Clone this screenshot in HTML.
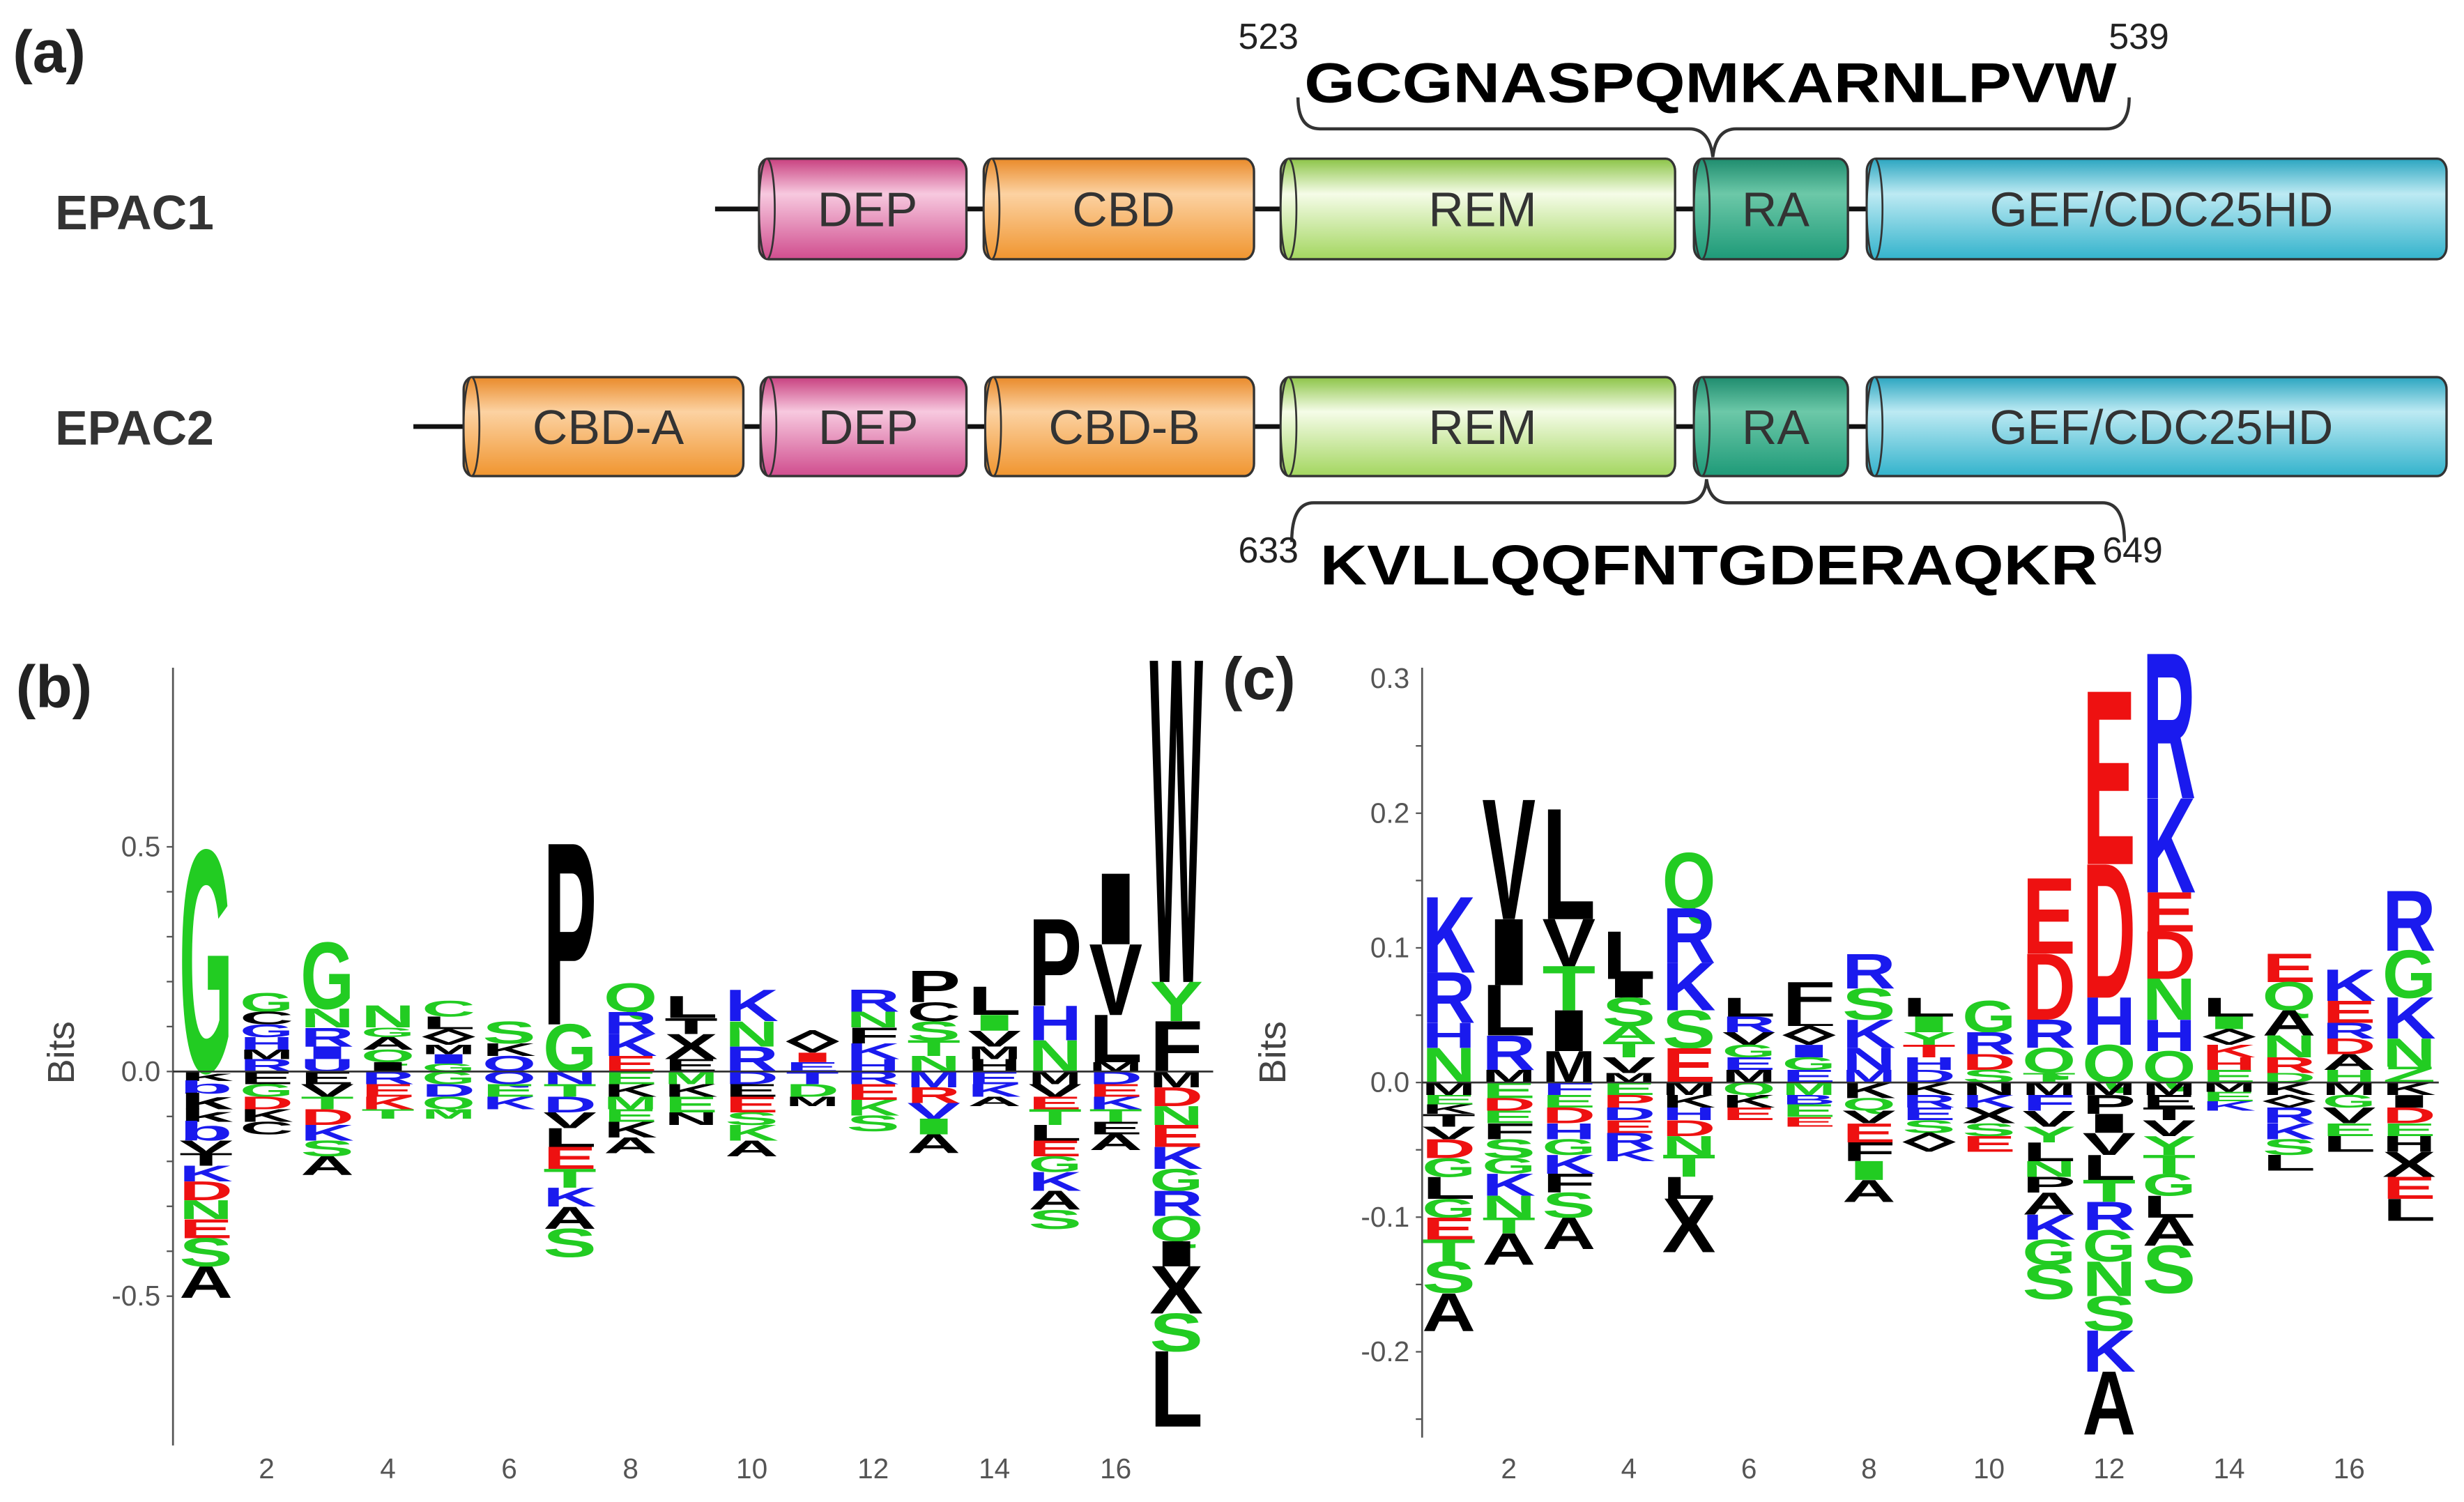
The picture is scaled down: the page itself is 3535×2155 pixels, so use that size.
<!DOCTYPE html>
<html><head><meta charset="utf-8"><style>
html,body{margin:0;padding:0;background:#fff;}
svg{display:block;}
text{font-family:"Liberation Sans",sans-serif;}
</style></head><body>
<svg id="s" xmlns="http://www.w3.org/2000/svg" width="3535" height="2155" viewBox="0 0 1568 956">
<defs>
<linearGradient id="gDEP" x1="0" y1="0" x2="0" y2="1"><stop offset="0" stop-color="#c8407f"/><stop offset="0.35" stop-color="#f7c9df"/><stop offset="1" stop-color="#d04d8e"/></linearGradient>
<linearGradient id="gCBD" x1="0" y1="0" x2="0" y2="1"><stop offset="0" stop-color="#e98a2a"/><stop offset="0.35" stop-color="#fcd2a2"/><stop offset="1" stop-color="#f0952f"/></linearGradient>
<linearGradient id="gREM" x1="0" y1="0" x2="0" y2="1"><stop offset="0" stop-color="#8cc447"/><stop offset="0.35" stop-color="#f5fce8"/><stop offset="1" stop-color="#a3d65f"/></linearGradient>
<linearGradient id="gRA" x1="0" y1="0" x2="0" y2="1"><stop offset="0" stop-color="#1e8c6e"/><stop offset="0.35" stop-color="#6cc8a8"/><stop offset="1" stop-color="#1e9a78"/></linearGradient>
<linearGradient id="gGEF" x1="0" y1="0" x2="0" y2="1"><stop offset="0" stop-color="#2aa5c0"/><stop offset="0.35" stop-color="#bdeaf3"/><stop offset="1" stop-color="#33b3cc"/></linearGradient>
</defs>
<g id="a"></g>
<g id="logos"></g>
</svg>
<script>
var NS="http://www.w3.org/2000/svg";
function el(p,tag,attrs,txt){var e=document.createElementNS(NS,tag);for(var k in attrs)e.setAttribute(k,attrs[k]);if(txt!==undefined)e.textContent=txt;p.appendChild(e);return e;}
var A=document.getElementById('a');
el(A,'text',{x:8,y:46,'font-size':38,'font-weight':'bold',fill:'#222'},'(a)');
el(A,'text',{x:35,y:146,'font-size':31,'font-weight':'bold',fill:'#333'},'EPAC1');
el(A,'text',{x:35,y:283,'font-size':31,'font-weight':'bold',fill:'#333'},'EPAC2');
function row(y0,y1,x0,boxes){
  var cy=(y0+y1)/2;
  el(A,'line',{x1:x0,y1:cy,x2:1557,y2:cy,stroke:'#111','stroke-width':3});
  boxes.forEach(function(b){
    el(A,'rect',{x:b[0],y:y0,width:b[1]-b[0],height:y1-y0,rx:6,ry:(y1-y0)/2*0.25,fill:'url(#g'+b[2]+')',stroke:'#333','stroke-width':1.5});
    el(A,'ellipse',{cx:b[0]+5,cy:cy,rx:5,ry:(y1-y0)/2,fill:'url(#g'+b[2]+')',stroke:'#333','stroke-width':1.2});
    el(A,'text',{x:(b[0]+b[1])/2+3,y:cy+11,'font-size':31,fill:'#333','text-anchor':'middle'},b[3]);
  });
}
row(101,165,455,[[483,615,'DEP','DEP'],[626,798,'CBD','CBD'],[815,1066,'REM','REM'],[1078,1176,'RA','RA'],[1188,1557,'GEF','GEF/CDC25HD']]);
row(240,303,263,[[295,473,'CBD','CBD-A'],[484,615,'DEP','DEP'],[627,798,'CBD','CBD-B'],[815,1066,'REM','REM'],[1078,1176,'RA','RA'],[1188,1557,'GEF','GEF/CDC25HD']]);
el(A,'text',{x:830,y:65,'font-size':36,'font-weight':'bold',fill:'#000',textLength:517,lengthAdjust:'spacingAndGlyphs'},'GCGNASPQMKARNLPVW');
el(A,'text',{x:788,y:31,'font-size':23,fill:'#222'},'523');
el(A,'text',{x:1342,y:31,'font-size':23,fill:'#222'},'539');
el(A,'path',{d:'M826,62 Q826,82 840,82 L1075,82 Q1088,82 1090,100 Q1092,82 1105,82 L1340,82 Q1355,82 1355,62',fill:'none',stroke:'#333','stroke-width':2});
el(A,'path',{d:'M822,345 Q822,320 836,320 L1072,320 Q1085,320 1086,305 Q1088,320 1100,320 L1338,320 Q1352,320 1352,345',fill:'none',stroke:'#333','stroke-width':2});
el(A,'text',{x:840,y:372,'font-size':36,'font-weight':'bold',fill:'#000',textLength:495,lengthAdjust:'spacingAndGlyphs'},'KVLLQQFNTGDERAQKR');
el(A,'text',{x:788,y:358,'font-size':23,fill:'#222'},'633');
el(A,'text',{x:1338,y:358,'font-size':23,fill:'#222'},'649');

var L=document.getElementById('logos');
var COL={g:'#22cc22',b:'#1a1aee',r:'#ee1111',k:'#000'};
function letter(ch,c,x,w,yTop,h){
  if(h<=0.5)return;
  el(L,'text',{x:0,y:0,'font-size':100,'font-weight':'bold',fill:COL[c],textLength:w,lengthAdjust:'spacingAndGlyphs',transform:'translate('+x+','+(yTop+h)+') scale(1,'+(h/69)+')'},ch);
}
function stack(x,w,base,pos,neg){
  var toks=pos.split(' ').filter(Boolean);var tot=0;toks.forEach(function(t){tot+=parseFloat(t.slice(2));});
  var y=base-tot;toks.forEach(function(t){var h=parseFloat(t.slice(2));letter(t[0],t[1],x,w,y,h);y+=h;});
  y=base;neg.split(' ').filter(Boolean).forEach(function(t){var h=parseFloat(t.slice(2));letter(t[0],t[1],x,w,y,h);y+=h;});
}
function axis(x,top,bot,zero,unit,step,labels,xlab0,xsp,bitsX,lab,labX,labY,xend){
  el(L,'line',{x1:x,y1:top,x2:x,y2:bot,stroke:'#555','stroke-width':1.2});
  for(var v=-5;v<=5;v++){var y=zero-v*step*unit;if(y<top-1||y>bot+1)continue;el(L,'line',{x1:x-4,y1:y,x2:x,y2:y,stroke:'#555','stroke-width':1});}
  labels.forEach(function(l){el(L,'text',{x:x-8,y:zero-l[0]*unit+6,'font-size':18,fill:'#555','text-anchor':'end'},l[1]);});
  el(L,'line',{x1:x,y1:zero,x2:xend,y2:zero,stroke:'#333','stroke-width':1.2});
  for(var i=2;i<=16;i+=2)el(L,'text',{x:xlab0+(i-1)*xsp,y:941,'font-size':18,fill:'#555','text-anchor':'middle'},''+i);
  el(L,'text',{x:0,y:0,'font-size':24,fill:'#444','text-anchor':'middle',transform:'translate('+bitsX+',670) rotate(-90)'},'Bits');
  el(L,'text',{x:labX,y:labY,'font-size':38,'font-weight':'bold',fill:'#222'},lab);
}
axis(110,425,920,682,286,0.1,[[0.5,'0.5'],[0,'0.0'],[-0.5,'-0.5']],131,38.6,47,'(b)',10,450,772);
var B=[
["Gg140","kk6 bb8 kk10 kk8 bb12 Vk8 Tk8 Kb10 Dr12 Ng12 Er12 Sg18 Ak20"],
["Gg12 Ck8 Gb8 Hb8 Mk6 Rb8","Ek8 Gg8 Dr8 Kk8 Ck8"],
["Gg42 Ng12 Rb12 Ib8 Ub8","Ek8 Vk8 Tg8 Dr10 Kb10 Sg10 Ak12"],
["Ng14 Gg6 Ak8 Qg8 Ik6","Rb8 Er8 Kr8 Tg6"],
["Cg10 Lk8 ◊k10 Mk6 Ib6 Gg5","Gg8 Db8 Qg8 Mg6"],
["Sg14 Kk8 Ob10","Qb8 Eg8 Kb8"],
["Pk115 Gg30","Nb8 Tg8 Db10 Vk10 Lk12 Er14 Tg12 Kb12 Ak14 Sg18"],
["Qg18 Rb14 Kb14 Er10","Eg8 Kk8 Mg8 Eg8 Kk10 Ak10"],
["Lk14 Tk10 Xk16 Ek8","Mg8 Kk8 Eg10 Nk8"],
["Kb20 Ng16 Rb16","Db8 Ek8 Er10 Sg8 Kg10 Ak10"],
["◊k14 Ir6 Eb6","Tb8 Dg8 Mk6"],
["Rb14 Ng10 Fk10 Kb10 Hb8","Rb8 Er10 Kg10 Sg10"],
["Pk20 Ck12 Sg12 Tg10 Ng10","Mb10 Rr10 Vb10 Ig10 Ak12"],
["Lk18 Ig10 Vk10 Mk8 Hk8","Eb8 Kb8 Ak6"],
["Pk55 Hb22 Ng20","Mk8 Vk8 Er8 Tg10 Lk10 Er10 Gg10 Kb12 Ak12 Sg12"],
["Ik45 Vk45 Lk30 Mk6","Db8 Er8 Kb8 Tg8 Ek8 Ak10"],
["Wk205 Yg25 Fk32","Mk10 Dr12 Ng12 Er14 Kb14 Gg14 Rb16 Qg16 Ik16 Xk30 Sg24 Lk48"]
];
B.forEach(function(s,i){stack(131+i*38.6-17,34,682,s[0],s[1]);});
axis(905,425,915,689,857,0.05,[[0.3,'0.3'],[0.2,'0.2'],[0.1,'0.1'],[0,'0.0'],[-0.1,'-0.1'],[-0.2,'-0.2']],922,38.2,818,'(c)',778,445,1552);
var C=[
["Kb48 Rb32 Hb16 Ng22","Mk8 Eg6 Kk6 Tk8 Vk8 Dr12 Gg12 Lk14 Gg12 Er14 Tg14 Sg20 Ak24"],
["Vk76 Ik42 Lk32 Rb22 Mk8","Eg10 Dr8 Eg8 Fk10 Sg12 Gg10 Kb14 Ng14 Tg10 Ak20"],
["Lk70 Vk30 Tg28 Ik26 Mk20","Fb8 Eg8 Dr10 Hb10 Gg10 Kb12 Fk12 Sg16 Ak20"],
["Lk30 Ik12 Sg18 Ag10 Tg10 Vk10 Mk6","Eg8 Pr8 Db8 Er8 Rb10 Kb8"],
["Qg35 Rb35 Kb30 Sg24 Er22","Mk8 Kk8 Hb8 Dr10 Ng12 Tg14 Lk14 Xk34"],
["Lk12 Rb10 Vk8 Gg8 Eb8 Mk8","Qg8 Kk8 Er8"],
["Fk20 Lk8 ◊k12 Ib8 Gg8 Eb8","Mg8 Bb6 Eg8 Er6"],
["Rb22 Sg20 Kb18 Nb14 Mb8","Kk10 Qg8 Vk8 Er12 Fk12 Ig12 Ak14"],
["Lk12 Ig10 Yg8 Tr8 Hb8 Db8","Kk8 Rb8 Eb8 Sg8 ◊k12"],
["Gg20 Rb14 Dr10 Sg8","Nk8 Kb8 Xk10 Sg8 Er10"],
["Er48 Dr42 Rb18 Qg16 Tg6","Mk8 Fb10 Vk10 Yg10 Lk12 Ng10 Pk10 Ak14 Kb16 Gg16 Sg22"],
["Er110 Dr85 Hb30 Qg24","Mk8 Pk12 Ik12 Vk14 Lk16 Tg14 Rb18 Gg20 Ng22 Sg22 Kb26 Ak40"],
["Rb92 Kb60 Er25 Dr30 Ng26 Hb20 Qg20","Mk8 Ek8 Tk8 Vk10 Yg12 Tg12 Gg14 Lk14 Ak18 Sg30"],
["Lk12 Ig8 ◊k10 Kr8 Hr8 Eg8","Mk6 Eg6 Kb6"],
["Er18 Qg18 Ak16 Ng14 Rr10 Dg6","Kk8 ◊k8 Rb10 Kb10 Sg10 Lk10"],
["Kb20 Er14 Rb10 Dr10 Ak10 Hg8","Mk8 Gg8 Vk10 Eg8 Lk10"],
["Rb38 Gg30 Kb26 Ng18 Zg10","Kk8 Ik8 Dr10 Eg8 Hk10 Xk16 Er14 Lk14"]
];
C.forEach(function(s,i){stack(922+i*38.2-17,34,689,s[0],s[1]);});
el(L,'line',{x1:110,y1:682,x2:772,y2:682,stroke:'#333','stroke-width':1});
el(L,'line',{x1:905,y1:689,x2:1552,y2:689,stroke:'#333','stroke-width':1});
</script>
</body></html>
